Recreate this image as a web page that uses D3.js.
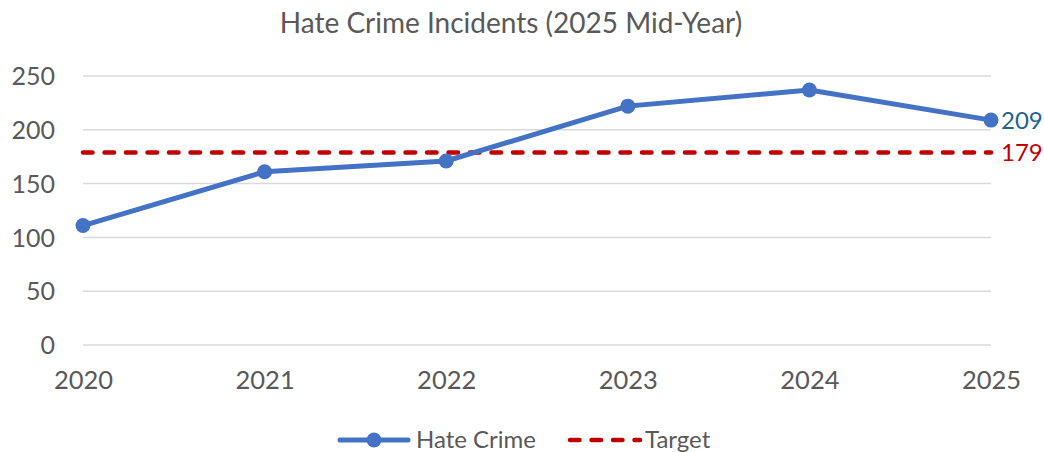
<!DOCTYPE html>
<html>
<head>
<meta charset="utf-8">
<script src="https://cdn.jsdelivr.net/npm/d3@7"></script>
<style>
  html, body { margin: 0; padding: 0; background: #fff; }
  svg text { font-family: Lato, "Open Sans", sans-serif; fill: #595959; }
</style>
</head>
<body>
<svg id="chart" width="1044" height="452"></svg>
<script>
// Yearly hate crime incident counts against the target level
const years = ["2020", "2021", "2022", "2023", "2024", "2025"];
const incidents = [111, 161, 171, 222, 237, 209];
const target = 179;
const yTicks = [0, 50, 100, 150, 200, 250];

const svg = d3.select("#chart");

const x = d3.scalePoint().domain(years).range([83, 991]);
const y = d3.scaleLinear().domain([0, 250]).range([345, 76]);

// Title
svg.append("text")
  .attr("x", 511).attr("y", 33)
  .attr("text-anchor", "middle")
  .style("font-size", "28px")
  .text("Hate Crime Incidents (2025 Mid-Year)");

// Horizontal gridlines
svg.append("g")
  .selectAll("line").data(yTicks).join("line")
  .attr("x1", 83).attr("x2", 991)
  .attr("y1", d => y(d)).attr("y2", d => y(d))
  .attr("stroke", "#d9d9d9").attr("stroke-width", 1.5);

// Y axis labels
const yAxis = d3.axisLeft(y).tickValues(yTicks).tickSize(0).tickPadding(28);
svg.append("g").attr("transform", "translate(83,0)").call(yAxis)
  .call(g => g.select(".domain").remove())
  .call(g => g.selectAll("text").style("font-size", "25px").attr("fill", "#595959")
    .style("font-family", "Lato, 'Open Sans', sans-serif").attr("dy", "0.35em"));

// X axis labels
const xAxis = d3.axisBottom(x).tickSize(0).tickPadding(26);
svg.append("g").attr("transform", "translate(0,345)").call(xAxis)
  .call(g => g.select(".domain").remove())
  .call(g => g.selectAll("text").style("font-size", "25.5px").attr("fill", "#595959")
    .style("font-family", "Lato, 'Open Sans', sans-serif"));

// Target line
svg.append("line")
  .attr("x1", x(years[0])).attr("x2", x(years[years.length - 1]))
  .attr("y1", y(target)).attr("y2", y(target))
  .attr("stroke", "#c00000").attr("stroke-width", 4.5)
  .attr("stroke-dasharray", "9.5 12").attr("stroke-linecap", "round");

// Incident series line
const line = d3.line().x((d, i) => x(years[i])).y(d => y(d));
svg.append("path")
  .datum(incidents)
  .attr("d", line)
  .attr("fill", "none")
  .attr("stroke", "#4472c4").attr("stroke-width", 5)
  .attr("stroke-linejoin", "round");

svg.append("g")
  .selectAll("circle").data(incidents).join("circle")
  .attr("cx", (d, i) => x(years[i])).attr("cy", d => y(d))
  .attr("r", 7.5).attr("fill", "#4472c4");

// End-value labels
svg.append("text")
  .attr("x", x(years[years.length - 1]) + 10).attr("y", y(incidents[incidents.length - 1]))
  .attr("dy", "0.35em")
  .style("font-size", "24px").style("fill", "#1f6391")
  .text(incidents[incidents.length - 1]);

svg.append("text")
  .attr("x", x(years[years.length - 1]) + 10).attr("y", y(target))
  .attr("dy", "0.35em")
  .style("font-size", "24px").style("fill", "#c00000")
  .text(target);

// Legend
const legY = 440;
const leg = svg.append("g");
leg.append("line").attr("x1", 340).attr("x2", 408).attr("y1", legY).attr("y2", legY)
  .attr("stroke", "#4472c4").attr("stroke-width", 5).attr("stroke-linecap", "round");
leg.append("circle").attr("cx", 374).attr("cy", legY).attr("r", 7.5).attr("fill", "#4472c4");
leg.append("text").attr("x", 416).attr("y", legY).attr("dy", "0.35em")
  .style("font-size", "24px").text("Hate Crime");
leg.append("line").attr("x1", 570).attr("x2", 640).attr("y1", legY).attr("y2", legY)
  .attr("stroke", "#c00000").attr("stroke-width", 4.5)
  .attr("stroke-dasharray", "9.5 12").attr("stroke-linecap", "round");
leg.append("text").attr("x", 645).attr("y", legY).attr("dy", "0.35em")
  .style("font-size", "24px").text("Target");
</script>
</body>
</html>
